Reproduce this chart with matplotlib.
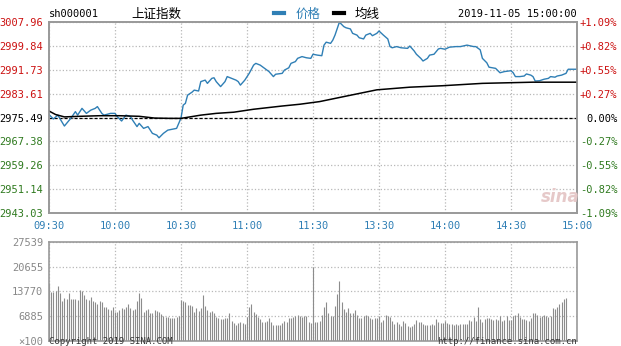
import matplotlib
matplotlib.use("Agg")
import matplotlib.pyplot as plt

# ---- data (minute index 0 = 09:30, 240 = 15:00) ----
prev_close = 2975.49
y_ticks = [2943.03, 2951.14, 2959.26, 2967.38, 2975.49, 2983.61, 2991.73, 2999.84, 3007.96]
pct_labels = ['-1.09%', '-0.82%', '-0.55%', '-0.27%', '0.00%', '+0.27%', '+0.55%', '+0.82%', '+1.09%']
time_labels = ['09:30', '10:00', '10:30', '11:00', '11:30', '13:30', '14:00', '14:30', '15:00']
time_ticks = [0, 30, 60, 90, 120, 150, 180, 210, 240]

price_idx = [0, 2, 4, 7, 10, 12, 13, 15, 17, 19, 21, 22, 24, 25, 28, 30, 31, 33, 35, 37,
             38, 40, 41, 43, 45, 47, 49, 50, 52, 54, 56, 58, 60, 61, 62, 63, 65, 66, 68, 69,
             71, 72, 74, 75, 76, 78, 80, 81, 83, 85, 86, 87, 89, 91, 93, 94, 96, 98, 100, 102,
             103, 106, 107, 109, 110, 112, 113, 115, 117, 119, 120, 122, 124, 125, 126, 128, 129, 130, 132, 134,
             135, 137, 138, 140, 141, 143, 144, 146, 147, 149, 150, 152, 154, 155, 156, 158, 160, 163, 164, 166,
             167, 169, 170, 172, 173, 175, 177, 178, 180, 182, 185, 187, 190, 193, 194, 196, 197, 199, 200, 203,
             205, 207, 210, 211, 212, 214, 216, 217, 219, 220, 221, 223, 225, 227, 228, 230, 231, 233, 235, 236,
             240]
price_val = [2976.5, 2975.0, 2976.3, 2972.6, 2975.3, 2977.5, 2976.3, 2978.6, 2976.9, 2978.0,
             2978.6, 2979.2, 2976.9, 2976.3, 2976.9, 2976.9, 2975.8, 2974.3, 2976.3, 2975.8,
             2974.6, 2972.4, 2973.5, 2971.8, 2972.4, 2970.1, 2969.5, 2968.6, 2970.1, 2971.2,
             2971.5, 2971.8, 2975.3, 2979.7, 2980.3, 2983.1, 2984.1, 2984.8, 2984.5, 2987.7,
             2988.2, 2987.1, 2988.8, 2989.0, 2987.7, 2986.0, 2987.7, 2989.4, 2988.8, 2988.2,
             2987.7, 2986.5, 2988.2, 2990.5, 2993.3, 2993.9, 2993.3, 2992.2, 2991.1, 2989.4,
             2990.2, 2990.5, 2991.6, 2992.4, 2993.9, 2994.5, 2995.6, 2996.2, 2995.8, 2995.6,
             2997.0, 2996.7, 2996.5, 3000.1, 3001.1, 3000.7, 3001.8, 3003.5, 3007.9, 3006.4,
             3006.0, 3005.6, 3004.1, 3003.5, 3002.6, 3002.2, 3003.5, 3004.1, 3003.3, 3004.1,
             3004.9, 3003.5, 3002.2, 2999.6, 2999.2, 2999.6, 2999.2, 2999.0, 2999.8, 2998.1,
             2997.0, 2995.6, 2994.7, 2995.6, 2996.7, 2997.0, 2998.8, 2999.0, 2998.7, 2999.4,
             2999.6, 2999.6, 3000.1, 2999.6, 2999.6, 2998.5, 2995.6, 2994.1, 2992.6, 2992.2,
             2990.7, 2991.1, 2991.4, 2990.7, 2989.4, 2989.4, 2989.6, 2990.3, 2989.9, 2989.4,
             2987.9, 2988.0, 2988.5, 2988.8, 2989.4, 2989.2, 2989.6, 2989.9, 2990.5, 2991.9,
             2991.9]

avg_idx = [0, 3, 7, 14, 23, 32, 41, 48, 55, 60, 69, 76, 84, 93, 106, 114, 123, 134, 149, 164,
           179, 197, 220, 240]
avg_val = [2977.7, 2976.5, 2975.7, 2975.9, 2976.1, 2976.1, 2975.9, 2975.3, 2975.2, 2975.2,
           2976.3, 2976.9, 2977.3, 2978.3, 2979.4, 2980.0, 2980.9, 2982.6, 2984.9, 2985.8,
           2986.3, 2987.1, 2987.5, 2987.5]

vol_ticks = [0, 6885, 13770, 20655, 27539]
vol_labels = ['×100', '6885', '13770', '20655', '27539']
vol_0930_1000 = [16000, 13700, 13700, 14000, 15200, 13200, 11200, 11800, 11600, 13400, 11600,
                 11600, 11600, 11500, 14100, 14000, 12800, 11600, 11400, 12300, 11200, 10900,
                 10300, 11200, 10900, 9500, 9300, 9000, 8600, 9300, 8100]
vol_1000_1030 = [8100, 8600, 9100, 8900, 9500, 10300, 9100, 8600, 8900, 11200, 13200, 11800,
                 8100, 8600, 8900, 7700, 7700, 8600, 8400, 8100, 7500, 6900, 6700, 6600, 6300,
                 6500, 6300, 6700, 7000, 11500]
vol_1030_1100 = [11200, 10900, 9900, 10000, 9700, 8100, 9100, 8400, 9100, 12800, 9700, 8600,
                 8100, 8400, 7700, 6600, 6300, 6000, 6000, 6300, 6300, 7700, 5600, 4900, 4400,
                 5100, 5400, 4900, 4600, 6600]
vol_1100_1130 = [9300, 10300, 8100, 7500, 6600, 6000, 5400, 5400, 5600, 6300, 5400, 4400, 4400,
                 4300, 4400, 4900, 5500, 5400, 6300, 6500, 6600, 6900, 7200, 6900, 6600, 6900,
                 6900, 5400, 5100, 20600]
vol_1300_1330 = [5400, 5400, 5600, 7200, 9500, 10900, 7700, 6900, 6900, 9700, 13000, 16700,
                 10900, 8800, 8100, 9100, 7900, 7900, 8600, 7200, 6300, 6500, 6900, 7200, 6900,
                 6500, 6000, 6500, 6500, 7000]
vol_1330_1400 = [5400, 5800, 7200, 6900, 6600, 5600, 4700, 5400, 4600, 4200, 5600, 4900, 4200,
                 4000, 4200, 4600, 5800, 5400, 5400, 4700, 4400, 4400, 4400, 4700, 4400, 6100,
                 5400, 5100, 4900, 5600]
vol_1400_1430 = [5100, 4600, 4600, 4400, 4700, 4400, 4600, 4700, 4600, 4700, 5800, 5600, 6600,
                 5600, 9300, 6000, 5400, 6100, 6300, 6300, 6000, 5800, 6000, 5800, 6900, 5600,
                 5800, 6900, 5800, 5800]
vol_1430_1500 = [6900, 7200, 7700, 6600, 6000, 6000, 5800, 5600, 6300, 7700, 7900, 7200, 6600,
                 6900, 7200, 6900, 6600, 6900, 9100, 8800, 9500, 10200, 10900, 11600, 11800,
                 600, 0, 0, 0, 0]
volume = (vol_0930_1000 + vol_1000_1030 + vol_1030_1100 + vol_1100_1130 +
          vol_1300_1330 + vol_1330_1400 + vol_1400_1430 + vol_1430_1500)

# ---- styling ----
RED = '#cc1111'
GREEN = '#2f7a1f'
BLUE = '#2f7fb5'
FRAME = '#999999'
GRID = '#b8b8b8'
MONO = 'DejaVu Sans Mono'
CJK = ['Noto Sans CJK SC', 'DejaVu Sans']

fig = plt.figure(figsize=(6.21, 3.46), dpi=100)
ax = fig.add_axes([49 / 621, 1 - 213 / 346, 528 / 621, 191 / 346])
axv = fig.add_axes([49 / 621, 1 - 341 / 346, 528 / 621, 99.3 / 346])

# main price panel
ax.plot(price_idx, price_val, color=BLUE, lw=1.0, zorder=3)
ax.plot(avg_idx, avg_val, color='black', lw=1.1, zorder=4)
ax.axhline(prev_close, color='black', lw=0.9, ls=(0, (2.5, 1.5)), zorder=2)
ax.set_xlim(0, 240)
ax.set_ylim(y_ticks[0], y_ticks[-1])
ax.set_yticks(y_ticks)
ax.set_yticklabels(['%.2f' % v for v in y_ticks])
ax.set_xticks(time_ticks)
ax.set_xticklabels(time_labels)
ax.grid(True, color=GRID, ls=':', lw=0.9, zorder=1)
ax.tick_params(axis='y', length=0, pad=4, labelsize=7.5)
ax.tick_params(axis='x', length=0, pad=6, labelsize=7.5, labelcolor=BLUE)
for lab, v in zip(ax.get_yticklabels(), y_ticks):
    lab.set_fontfamily(MONO)
    lab.set_color(RED if v > prev_close + 0.01 else (GREEN if v < prev_close - 0.01 else 'black'))
for lab in ax.get_xticklabels():
    lab.set_fontfamily(MONO)

ax2 = ax.twinx()
ax2.set_ylim(y_ticks[0], y_ticks[-1])
ax2.set_yticks(y_ticks)
ax2.set_yticklabels(pct_labels)
ax2.tick_params(axis='y', length=0, pad=29, labelsize=7.5)
for lab, t in zip(ax2.get_yticklabels(), pct_labels):
    lab.set_fontfamily(MONO)
    lab.set_horizontalalignment('right')
    lab.set_color(RED if t.startswith('+') else (GREEN if t.startswith('-') else 'black'))

for a in (ax, ax2, axv):
    for s in a.spines.values():
        s.set_color(FRAME)
        s.set_linewidth(1.2)

# volume panel
axv.vlines(range(len(volume)), 0, volume, color='#8c8c8c', lw=0.8, zorder=2)
axv.set_xlim(0, 240)
axv.set_ylim(0, vol_ticks[-1])
axv.set_yticks(vol_ticks)
axv.set_yticklabels(vol_labels)
axv.set_xticks(time_ticks)
axv.set_xticklabels([])
axv.grid(True, color=GRID, ls=':', lw=0.9, zorder=3)
axv.tick_params(axis='y', length=0, pad=4, labelsize=7.5, labelcolor='#888888')
axv.tick_params(axis='x', length=0)
for lab in axv.get_yticklabels():
    lab.set_fontfamily(MONO)

# header
fig.text(49 / 621, 1 - 14 / 346, 'sh000001', fontsize=7.5, family=MONO, va='center', ha='left')
fig.text(156 / 621, 1 - 14 / 346, '上证指数', fontsize=9, family=CJK, va='center', ha='center')
fig.lines.append(plt.Line2D([274 / 621, 284 / 621], [1 - 13 / 346] * 2, color=BLUE, lw=3,
                            transform=fig.transFigure))
fig.text(296 / 621, 1 - 14 / 346, '价格', fontsize=9, family=CJK, color=BLUE, va='center', ha='left')
fig.lines.append(plt.Line2D([334 / 621, 344 / 621], [1 - 13 / 346] * 2, color='black', lw=3,
                            transform=fig.transFigure))
fig.text(355 / 621, 1 - 14 / 346, '均线', fontsize=9, family=CJK, va='center', ha='left')
fig.text(577 / 621, 1 - 14 / 346, '2019-11-05 15:00:00', fontsize=7.5, family=MONO,
         va='center', ha='right')

# watermark and footer
fig.text(560 / 621, 1 - 197 / 346, 'sina', fontsize=12, style='italic', weight='bold',
         color='#e6c9c9', va='center', ha='center')
fig.text(49 / 621, 0.5 / 346, 'Copyright 2019 SINA.COM', fontsize=6.5, family=MONO,
         color='#333333', va='bottom', ha='left')
fig.text(577 / 621, 0.5 / 346, 'http://finance.sina.com.cn', fontsize=6.5, family=MONO,
         color='#333333', va='bottom', ha='right')

fig.savefig('out.png', dpi=100)
